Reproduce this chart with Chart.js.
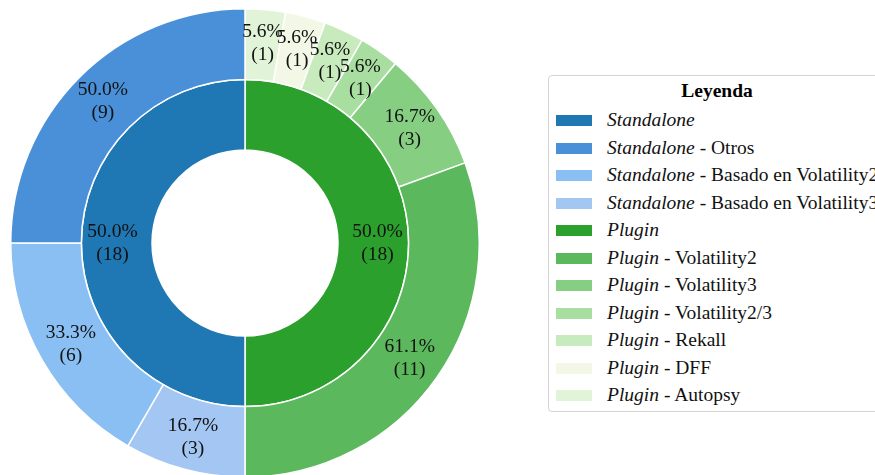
<!DOCTYPE html>
<html>
<head>
<meta charset="utf-8">
<script src="https://cdn.jsdelivr.net/npm/chart.js@4/dist/chart.umd.min.js"></script>
<style>
  body { margin: 0; width: 875px; height: 475px; overflow: hidden; background: #fff; position: relative; font-family: "Liberation Serif", serif; }
  #pie { position: absolute; left: 10px; top: 8px; }
  #legend { position: absolute; left: 548px; top: 75px; width: 338px; height: 337px; border: 1px solid #d4d4d4; border-radius: 4px; background: #fff; box-sizing: border-box; }
  #legend .title { text-align: center; font-weight: bold; font-size: 19.5px; margin-top: 4px; height: 28px; line-height: 22px; }
  #legend .row { position: relative; height: 27.5px; font-size: 19.5px; white-space: nowrap; }
  #legend .sw { position: absolute; left: 7px; top: 7px; width: 36px; height: 11px; }
  #legend .txt { position: absolute; left: 58px; top: 0; line-height: 24px; color: #111; }
</style>
</head>
<body>
<canvas id="pie" width="470" height="470"></canvas>
<div id="legend"></div>
<script>
// inner ring
const groups = ["Standalone", "Plugin"];
const groupValues = [18, 18];
const groupColors = ["#1f77b4", "#2ca02c"];

// outer ring
const subNames = ["Otros", "Basado en Volatility2", "Basado en Volatility3",
  "Volatility2", "Volatility3", "Volatility2/3", "Rekall", "DFF", "Autopsy"];
const subGroup = [0, 0, 0, 1, 1, 1, 1, 1, 1];
const subValues = [9, 6, 3, 11, 3, 1, 1, 1, 1];
const subColors = ["#4a90d9", "#89bff2", "#a3c6f2",
  "#5cb85c", "#86cf82", "#a8dfa0", "#c8ebbd", "#f2f7e6", "#e2f4d8"];

// legend (html, so the group name can be italic)
const legend = document.getElementById("legend");
let html = '<div class="title">Leyenda</div>';
function row(color, group, sub) {
  const text = "<i>" + group + "</i>" + (sub ? " - " + sub : "");
  return `<div class="row"><div class="sw" style="background:${color}"></div><span class="txt">${text}</span></div>`;
}
groups.forEach((g, gi) => {
  html += row(groupColors[gi], g, null);
  subNames.forEach((s, i) => {
    if (subGroup[i] === gi) html += row(subColors[i], g, s);
  });
});
legend.innerHTML = html;

// matplotlib drew counterclockwise, chart.js goes clockwise -> reverse
const rev = (a) => a.slice().reverse();
const outerPct = subValues.map((v, i) => {
  const tot = subValues.filter((_, j) => subGroup[j] === subGroup[i]).reduce((s, x) => s + x, 0);
  return (v / tot) * 100;
});
const innerTotal = groupValues.reduce((s, x) => s + x, 0);
const innerPct = groupValues.map((v) => (v / innerTotal) * 100);

const sliceLabels = {
  id: "sliceLabels",
  afterDatasetsDraw(chart) {
    const ctx = chart.ctx;
    ctx.save();
    ctx.font = '19.5px "Liberation Serif"';
    ctx.fillStyle = "#111";
    ctx.textAlign = "center";
    ctx.textBaseline = "middle";
    chart.data.datasets.forEach((ds, di) => {
      const meta = chart.getDatasetMeta(di);
      meta.data.forEach((arc, i) => {
        const p = arc.getProps(["x", "y", "startAngle", "endAngle", "innerRadius", "outerRadius"], true);
        const a = (p.startAngle + p.endAngle) / 2;
        const r = p.innerRadius + (p.outerRadius - p.innerRadius) * ds.labelPos;
        const x = p.x + Math.cos(a) * r;
        const y = p.y + Math.sin(a) * r;
        ctx.fillText(ds.pct[i].toFixed(1) + "%", x, y - 11);
        ctx.fillText("(" + ds.data[i] + ")", x, y + 12);
      });
    });
    ctx.restore();
  }
};

new Chart(document.getElementById("pie"), {
  type: "doughnut",
  data: {
    labels: rev(subNames),
    datasets: [
      {
        data: rev(subValues),
        pct: rev(outerPct),
        backgroundColor: rev(subColors),
        borderColor: "#fff",
        borderWidth: 1.5,
        labelPos: 0.53,
      },
      {
        data: rev(groupValues),
        pct: rev(innerPct),
        backgroundColor: rev(groupColors),
        borderColor: "#fff",
        borderWidth: 1.5,
        labelPos: 0.56,
      },
    ],
  },
  options: {
    responsive: false,
    animation: false,
    cutout: "39.7%",
    layout: { padding: 0 },
    plugins: { legend: { display: false }, tooltip: { enabled: false } },
  },
  plugins: [sliceLabels],
});
</script>
</body>
</html>
